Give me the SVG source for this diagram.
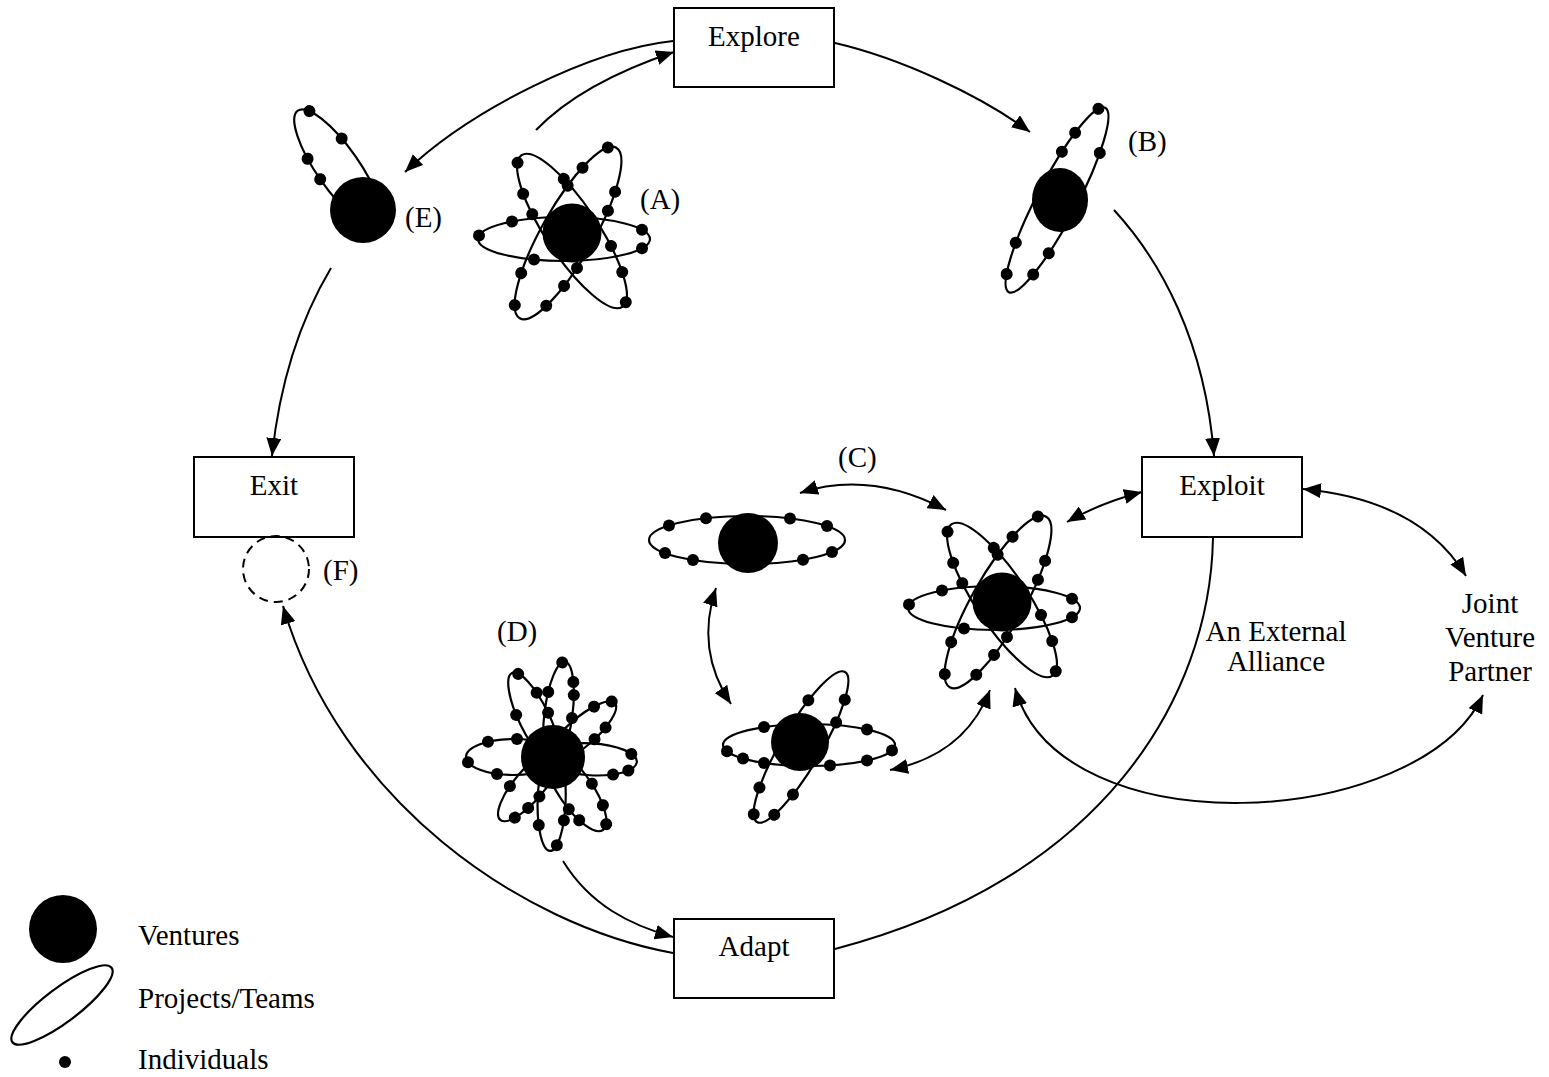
<svg xmlns="http://www.w3.org/2000/svg" xmlns:xlink="http://www.w3.org/1999/xlink" width="1549" height="1077" viewBox="0 0 1549 1077">
<style>
.bx{fill:#fff;stroke:#000;stroke-width:2}
.t{font-family:"Liberation Serif","Times New Roman",serif;font-size:29px;fill:#000}
.m{text-anchor:middle}
.pe{fill:none;stroke:#000;stroke-width:2.2}
.c{fill:none;stroke:#000;stroke-width:2}
circle,ellipse.v{fill:#000}
</style>
<defs>
<marker id="ah" markerUnits="userSpaceOnUse" markerWidth="18" markerHeight="15" refX="18" refY="7.5" orient="auto-start-reverse" viewBox="0 0 18 15"><path d="M0,0 L18,7.5 L0,15 z" fill="#000"/></marker>
<g id="flA">
<g transform="translate(-8,6)"><ellipse class="pe" rx="86" ry="22"/><circle cx="-52" cy="-17.5" r="6"/><circle cx="-85" cy="-3.4" r="6"/><circle cx="-30" cy="20.6" r="6"/><circle cx="78" cy="-9.3" r="6"/><circle cx="78" cy="9.3" r="6"/></g>
<g transform="translate(0,-2) rotate(56.4)"><ellipse class="pe" rx="91" ry="26"/><circle cx="-87" cy="7.6" r="6"/><circle cx="-58" cy="20.1" r="6"/><circle cx="-36" cy="23.8" r="6"/><circle cx="-48" cy="-22" r="6"/><circle cx="34" cy="-24.2" r="6"/><circle cx="62" cy="-19.1" r="6"/><circle cx="89" cy="-5.4" r="6"/></g>
<g transform="translate(-4,0) rotate(-60.5)"><ellipse class="pe" rx="98" ry="26"/><circle cx="94" cy="-7.4" r="6"/><circle cx="64" cy="-19.5" r="6"/><circle cx="41" cy="-23.6" r="6"/><circle cx="59" cy="20.7" r="6"/><circle cx="39" cy="23.8" r="6"/><circle cx="-58" cy="-21" r="6"/><circle cx="-89" cy="-10.8" r="6"/><circle cx="-74" cy="16.9" r="6"/><circle cx="-48" cy="22.6" r="6"/><circle cx="-26" cy="25" r="6"/></g>
<circle r="29.5"/>
</g>
</defs>
<rect width="1549" height="1077" fill="#fff"/>

<g id="connectors">
<path class="c" d="M673,41 C590,50 470,110 405,172" marker-end="url(#ah)"/>
<path class="c" d="M536,130 C570,95 620,70 674,52" marker-end="url(#ah)"/>
<path class="c" d="M835,43 C900,58 980,95 1030,132" marker-end="url(#ah)"/>
<path class="c" d="M1114,210 C1160,260 1205,340 1214,456" marker-end="url(#ah)"/>
<path class="c" d="M1213,538 C1210,700 1100,880 835,949"/>
<path class="c" d="M673,953 C520,925 340,800 283,606" marker-end="url(#ah)"/>
<path class="c" d="M331,268 C300,320 280,380 272,456" marker-end="url(#ah)"/>
<path class="c" d="M563,861 C590,905 630,925 673,937" marker-end="url(#ah)"/>
<path class="c" d="M800,493 Q870,470 946,510" marker-start="url(#ah)" marker-end="url(#ah)"/>
<path class="c" d="M716,588 Q695,650 731,704" marker-start="url(#ah)" marker-end="url(#ah)"/>
<path class="c" d="M890,770 Q965,755 990,690" marker-start="url(#ah)" marker-end="url(#ah)"/>
<path class="c" d="M1067,522 Q1100,503 1142,492" marker-start="url(#ah)" marker-end="url(#ah)"/>
<path class="c" d="M1303,489 Q1420,500 1466,576" marker-start="url(#ah)" marker-end="url(#ah)"/>
<path class="c" d="M1015,688 C1060,850 1420,830 1483,695" marker-start="url(#ah)" marker-end="url(#ah)"/>
</g>

<g id="explore"><rect class="bx" x="674" y="8" width="160" height="79"/><text class="t m" x="754" y="46">Explore</text></g>
<g id="exit"><rect class="bx" x="194" y="457" width="160" height="80"/><text class="t m" x="274" y="495">Exit</text></g>
<g id="exploit"><rect class="bx" x="1142" y="457" width="160" height="80"/><text class="t m" x="1222" y="495">Exploit</text></g>
<g id="adapt"><rect class="bx" x="674" y="919" width="160" height="79"/><text class="t m" x="754" y="956">Adapt</text></g>

<g id="ventureA"><use xlink:href="#flA" href="#flA" transform="translate(572,233)"/><text class="t" x="640" y="209">(A)</text></g>

<g id="ventureE">
<g transform="translate(338,168) rotate(55)"><ellipse class="pe" rx="70" ry="21"/><circle cx="-63" cy="-9.2" r="6"/><circle cx="-22" cy="-19.9" r="6"/><circle cx="-25" cy="19.6" r="6"/><circle cx="-1" cy="21" r="6"/></g>
<circle cx="363" cy="210" r="33"/>
<text class="t" x="405" y="227">(E)</text>
</g>

<g id="ventureB">
<g transform="translate(1057,200) rotate(-62.4)"><ellipse class="pe" rx="104" ry="20"/><circle cx="100" cy="-5.5" r="6"/><circle cx="68" cy="-15.1" r="6"/><circle cx="45" cy="-18" r="6"/><circle cx="61.5" cy="16.1" r="6"/><circle cx="-57" cy="-16.7" r="6"/><circle cx="-51" cy="17.4" r="6"/><circle cx="-89" cy="-10.3" r="6"/><circle cx="-77" cy="13.4" r="6"/></g>
<ellipse class="v" cx="1060" cy="200" rx="28" ry="32"/>
<text class="t" x="1128" y="151">(B)</text>
</g>

<g id="ventureC">
<text class="t" x="838" y="467">(C)</text>
<g id="c-left">
<g transform="translate(747,540)"><ellipse class="pe" rx="98" ry="24"/><circle cx="-78" cy="-14.5" r="6"/><circle cx="-41" cy="-21.8" r="6"/><circle cx="-82" cy="13.1" r="6"/><circle cx="-54" cy="20" r="6"/><circle cx="43" cy="-21.6" r="6"/><circle cx="80" cy="-13.9" r="6"/><circle cx="56" cy="19.7" r="6"/><circle cx="85" cy="11.9" r="6"/></g>
<circle cx="748" cy="543" r="30"/>
</g>
<g id="c-right"><use xlink:href="#flA" href="#flA" transform="translate(1002,602)"/></g>
<g id="c-bottom">
<g transform="translate(809,745)"><ellipse class="pe" rx="86" ry="21"/><circle cx="-45" cy="-17.9" r="6"/><circle cx="-82" cy="6.3" r="6"/><circle cx="-66" cy="13.5" r="6"/><circle cx="-45" cy="17.9" r="6"/><circle cx="58" cy="-15.5" r="6"/><circle cx="83" cy="5.5" r="6"/><circle cx="58" cy="15.5" r="6"/><circle cx="21" cy="20.4" r="6"/></g>
<g transform="translate(801,747) rotate(-59.6)"><ellipse class="pe" rx="87" ry="20"/><circle cx="44" cy="-17.3" r="6"/><circle cx="63" cy="13.8" r="6"/><circle cx="39" cy="17.9" r="6"/><circle cx="-56" cy="-15.3" r="6"/><circle cx="-82" cy="-6.7" r="6"/><circle cx="-72" cy="11.2" r="6"/><circle cx="-45" cy="17.1" r="6"/></g>
<circle cx="800" cy="742" r="29"/>
</g>
</g>

<g id="ventureD">
<g transform="translate(553,757)">
<g transform="rotate(-82.8)"><ellipse class="pe" cx="44" rx="52" ry="14"/><circle cx="95" cy="-2.7" r="6"/><circle cx="77" cy="10.8" r="6"/><circle cx="64" cy="12.9" r="6"/><circle cx="64" cy="-12.9" r="6"/><circle cx="41" cy="14" r="6"/></g>
<g transform="rotate(-116)"><ellipse class="pe" cx="42.75" rx="50.75" ry="15"/><circle cx="90" cy="5.1" r="6"/><circle cx="65" cy="13.5" r="6"/><circle cx="54" cy="-14.7" r="6"/><circle cx="42" cy="15" r="6"/></g>
<g transform="rotate(-41)"><ellipse class="pe" cx="37" rx="45" ry="14"/><circle cx="64" cy="-11.1" r="6"/><circle cx="80.7" cy="-3.3" r="6"/><circle cx="59" cy="12.3" r="6"/><circle cx="43" cy="13.9" r="6"/></g>
<g transform="rotate(180)"><ellipse class="pe" cx="39.5" rx="47.5" ry="18"/><circle cx="65" cy="15.2" r="6"/><circle cx="85" cy="-5.2" r="6"/><circle cx="56" cy="-16.9" r="6"/><circle cx="36" cy="18" r="6"/></g>
<g transform="rotate(3.4)"><ellipse class="pe" cx="38" rx="46" ry="16"/><circle cx="78" cy="-7.7" r="6"/><circle cx="76" cy="9.1" r="6"/><circle cx="61" cy="13.9" r="6"/></g>
<g transform="rotate(130)"><ellipse class="pe" cx="37" rx="45" ry="15"/><circle cx="50" cy="14.3" r="6"/><circle cx="39" cy="-15" r="6"/><circle cx="55" cy="-13.7" r="6"/><circle cx="71" cy="-9.7" r="6"/></g>
<g transform="rotate(91.8)"><ellipse class="pe" cx="43" rx="51" ry="14"/><circle cx="68.5" cy="12.1" r="6"/><circle cx="88" cy="-6.6" r="6"/><circle cx="63" cy="-12.9" r="6"/></g>
<g transform="rotate(55.6)"><ellipse class="pe" cx="40.25" rx="48.25" ry="17"/><circle cx="52" cy="16.5" r="6"/><circle cx="67" cy="14.1" r="6"/><circle cx="68" cy="-13.9" r="6"/><circle cx="85.5" cy="-5.9" r="6"/><circle cx="44" cy="-17" r="6"/></g>
<circle r="32"/>
</g>
<text class="t" x="497" y="641">(D)</text>
</g>

<g id="ventureF">
<circle cx="276" cy="569" r="33" fill="none" stroke="#000" stroke-width="2" stroke-dasharray="9,6" style="fill:none"/>
<text class="t" x="323" y="580">(F)</text>
</g>

<g id="alliance"><text class="t m" x="1276" y="641">An External</text><text class="t m" x="1276" y="671">Alliance</text></g>
<g id="partner"><text class="t m" x="1490" y="613">Joint</text><text class="t m" x="1490" y="647">Venture</text><text class="t m" x="1490" y="681">Partner</text></g>

<g id="legend">
<circle cx="63" cy="929" r="34"/>
<ellipse class="pe" transform="translate(62,1005) rotate(-36.9)" rx="62" ry="17"/>
<circle cx="65" cy="1062" r="6"/>
<text class="t" x="138" y="945">Ventures</text>
<text class="t" x="138" y="1008">Projects/Teams</text>
<text class="t" x="138" y="1069">Individuals</text>
</g>
</svg>
